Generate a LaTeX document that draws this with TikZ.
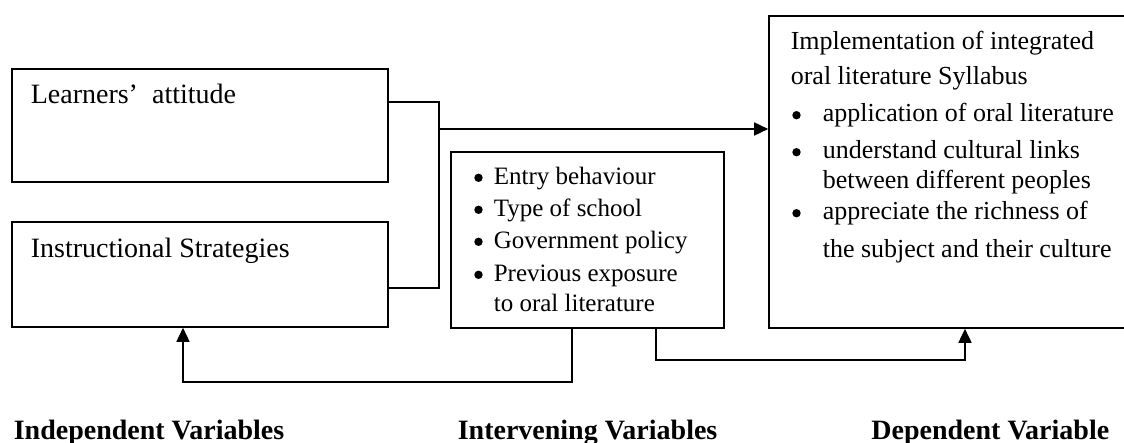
\documentclass[tikz,border=0pt]{standalone}
\usepackage{fontspec}
\setmainfont{Liberation Serif}
\usetikzlibrary{arrows.meta}
\tikzset{
  box/.style={draw,inner sep=0},
  big/.style={anchor=base west,inner sep=0,font=\fontsize{14}{17}\selectfont},
  mid/.style={anchor=base west,inner sep=0,font=\fontsize{12.5}{15}\selectfont},
  rgt/.style={anchor=base west,inner sep=0,font=\fontsize{13}{15.5}\selectfont},
  lab/.style={inner sep=0,font=\fontsize{14}{17}\selectfont\bfseries}
}
\begin{document}
\begin{tikzpicture}[x=0.5pt,y=-0.5pt,>={Triangle[length=7pt,width=6.5pt]},line width=0.8pt]
  \useasboundingbox (0,0) rectangle (1124,443);
  \clip (0,0) rectangle (1124,443);
  % independent variables
  \node[box,minimum width=188pt,minimum height=56.5pt] (learn) at (200,125.5) {};
  \node[box,minimum width=188pt,minimum height=52.5pt] (instr) at (200,274.5) {};
  \node[big] (learntxt) at (30,104) {Learners’~~attitude};
  \node[big] (instrtxt) at (30,257) {Instructional Strategies};
  % intervening variables
  \node[box,minimum width=136.5pt,minimum height=88pt] (interv) at (587.5,240) {};
  \foreach \yy/\lbl in {185/Entry behaviour,217/Type of school,
                        249/Government policy,282/Previous exposure}{
    \node[mid] (iv\yy) at (493,\yy) {\lbl};
    \fill ([xshift=-7.25pt,yshift=3.6pt]iv\yy.base west) circle (2.1pt);}
  \node[mid] (iv312) at (493,312) {to oral literature};
  % dependent variable
  \node[box,minimum width=180.5pt,minimum height=156pt] (dep) at (949.5,172) {};
  \node[rgt] (dv1) at (790,50) {Implementation of integrated};
  \node[rgt] (dv2) at (790,85) {oral literature Syllabus};
  \node[rgt] (dv3) at (822,122) {application of oral literature};
  \node[rgt] (dv4) at (822,159) {understand cultural links};
  \node[rgt] (dv5) at (822,189) {between different peoples};
  \node[rgt] (dv6) at (822,220) {appreciate the richness of};
  \node[rgt] (dv7) at (822,257) {the subject and their culture};
  \foreach \d in {dv3,dv4,dv6}
    \fill ([xshift=-12.75pt,yshift=3.4pt]\d.base west) circle (2.1pt);
  % connectors
  \coordinate (jn) at (439,129);
  \draw ([yshift=-17pt]learn.north east) -| (jn) |- ([yshift=20pt]instr.south east);
  \draw[->] (jn) -- (jn -| dep.west);
  \coordinate (fb) at (183,382);
  \draw[->] ([xshift=-7.75pt]interv.south) |- (fb) -- (fb |- instr.south);
  \coordinate (ff) at (965,360);
  \draw[->] ([xshift=34.25pt]interv.south) |- (ff) -- (ff |- dep.south);
  % captions
  \node[lab,anchor=base west] (indep) at (13,439) {Independent Variables};
  \node[lab,anchor=base west] (intv) at (457,439) {Intervening Variables};
  \node[lab,anchor=base east] (depl) at (1110,439) {Dependent Variable};
\end{tikzpicture}
\end{document}
